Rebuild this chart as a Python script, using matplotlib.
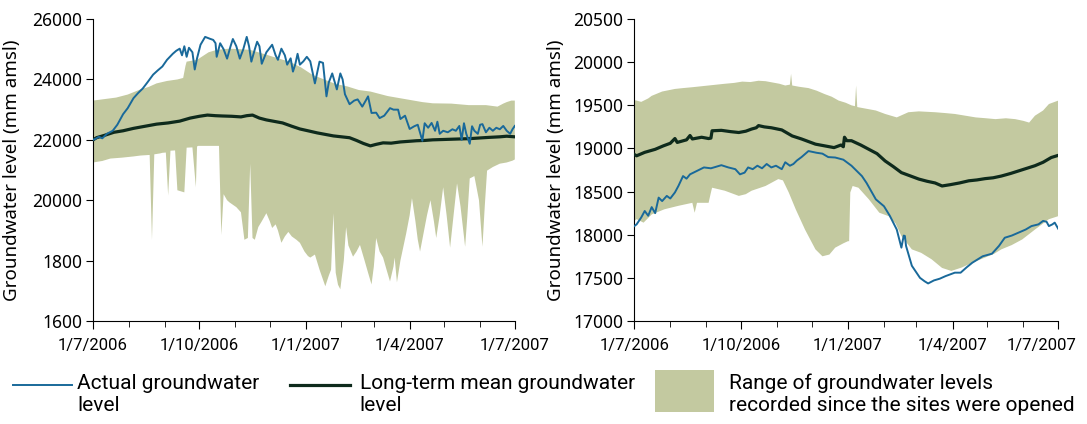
import numpy as np
import pandas as pd
import matplotlib
matplotlib.use("Agg")
import matplotlib.pyplot as plt
import matplotlib.transforms as mtransforms
from matplotlib.lines import Line2D
from matplotlib.patches import Rectangle

# ---- data (days after 1/7/2006, value in mm amsl) ----
start = pd.Timestamp("2006-07-01")

tick_dates = ["1/7/2006", "1/10/2006", "1/1/2007", "1/4/2007", "1/7/2007"]

left_ytick_values = [16000, 18000, 20000, 22000, 24000, 26000]
left_ytick_labels = ["1600", "1800", "20000", "22000", "24000", "26000"]
right_ytick_values = [17000, 17500, 18000, 18500, 19000, 19500, 20000, 20500]

# left site
left_actual_days = [0, 2, 5, 8, 12, 17, 21, 26, 30, 35, 39, 43, 47, 52, 56, 60, 64, 69, 72, 75,
                    77, 79, 81, 83, 86, 88, 90, 93, 97, 101, 104, 106, 107, 110, 113, 116, 119, 121,
                    124, 127, 130, 133, 135, 137, 140, 142, 144, 146, 150, 155, 158, 160, 163, 166,
                    168, 171, 173, 175, 177, 179, 182, 185, 188, 192, 196, 199, 202, 204, 207, 211,
                    214, 216, 218, 222, 226, 229, 233, 236, 238, 241, 245, 248, 252, 257, 260, 264,
                    266, 270, 274, 278, 281, 285, 287, 290, 293, 296, 298, 300, 303, 307, 311, 314,
                    317, 319, 321, 323, 326, 328, 330, 333, 335, 337, 340, 343, 346, 349, 352, 355,
                    358, 361, 363, 365]
left_actual = [22000, 22030, 22100, 22050, 22200, 22300, 22500, 22850, 23050, 23380, 23550, 23700,
               23900, 24160, 24300, 24430, 24650, 24850, 24950, 25020, 24800, 25100, 24750, 25050,
               24900, 24330, 24700, 25150, 25410, 25350, 25310, 25200, 24750, 25200, 25000, 24690,
               25100, 25340, 25100, 24690, 25000, 25410, 25100, 24590, 25000, 25250, 25100, 24520,
               24900, 25150, 24800, 24650, 25020, 24800, 24490, 24700, 24260, 24500, 24850, 24490,
               24600, 24750, 24600, 23870, 24590, 24550, 23440, 23900, 24200, 23670, 24200, 24000,
               23510, 23180, 23300, 23340, 23100, 23300, 23440, 22890, 22900, 22720, 22800, 23050,
               23000, 23000, 22690, 22800, 22360, 22450, 22500, 21970, 22550, 22400, 22560, 22300,
               22600, 22200, 22300, 22250, 22350, 22300, 22460, 22000, 22550, 22200, 21870, 22450,
               22300, 22200, 22500, 22520, 22250, 22400, 22300, 22400, 22350, 22460, 22300, 22200,
               22350, 22460]

left_mean_days = [0, 3, 10, 18, 26, 35, 45, 55, 65, 75, 84, 92, 99, 106, 112, 120, 128, 133, 138,
                  144, 150, 157, 164, 172, 179, 186, 194, 201, 208, 215, 222, 228, 234, 240, 245,
                  251, 258, 266, 273, 280, 287, 294, 302, 310, 318, 326, 334, 342, 352, 358, 365]
left_mean = [22000, 22070, 22150, 22250, 22300, 22380, 22450, 22520, 22560, 22620, 22720, 22780,
             22820, 22800, 22790, 22780, 22760, 22800, 22820, 22720, 22660, 22610, 22560, 22450,
             22360, 22300, 22230, 22180, 22130, 22100, 22070, 21980, 21880, 21800, 21850, 21900,
             21890, 21930, 21950, 21970, 21980, 22000, 22010, 22020, 22030, 22040, 22060, 22080,
             22100, 22120, 22100]

left_upper_days = [0, 10, 20, 30, 41, 48, 55, 64, 73, 78, 80, 81, 90, 100, 107, 118, 128, 136, 143,
                   150, 160, 170, 180, 190, 200, 210, 220, 230, 240, 255, 270, 285, 294, 310, 325,
                   340, 350, 355, 358, 362, 365]
left_upper = [23300, 23350, 23400, 23500, 23670, 23750, 23870, 23950, 24000, 24050, 24450, 24590,
              24650, 24900, 24980, 25020, 25000, 24980, 24900, 24820, 24700, 24590, 24400, 24150,
              24000, 23850, 23770, 23650, 23600, 23450, 23350, 23250, 23210, 23200, 23150, 23150,
              23100, 23200, 23250, 23300, 23300]

left_lower_days = [0, 8, 15, 25, 35, 41, 49, 51, 53, 58, 60, 63, 65, 67, 71, 73, 79, 81, 86, 89,
                   90, 91, 109, 111, 113, 116, 118, 121, 124, 128, 131, 134, 136, 138, 140, 143,
                   146, 150, 153, 155, 158, 160, 163, 166, 169, 172, 176, 179, 183, 186, 188, 192,
                   196, 201, 204, 206, 208, 210, 212, 214, 217, 219, 221, 225, 228, 231, 235, 238,
                   241, 243, 245, 248, 251, 254, 257, 260, 261, 263, 266, 268, 271, 274, 276, 279,
                   281, 283, 286, 289, 292, 295, 297, 300, 303, 306, 309, 312, 315, 318, 322, 324,
                   326, 330, 334, 337, 339, 341, 346, 352, 358, 363, 365]
left_lower = [21250, 21300, 21380, 21410, 21450, 21480, 21500, 18690, 21520, 21550, 21570, 21580,
              20160, 21640, 21650, 20330, 20260, 21740, 21750, 20430, 21780, 21800, 21800, 18850,
              20200, 20000, 19930, 19850, 19770, 19600, 18690, 18750, 21210, 18750, 18690, 19110,
              19300, 19570, 19300, 19080, 19200, 19000, 18590, 18800, 18950, 18800, 18690, 18590,
              18300, 18150, 18100, 18200, 17700, 17150, 17500, 17700, 19570, 17600, 17200, 17050,
              18000, 19110, 18500, 18130, 18300, 18520, 18000, 17600, 17210, 17800, 18750, 18300,
              18100, 17700, 17310, 17800, 18100, 17280, 18000, 18360, 18900, 19500, 20070, 19300,
              18700, 18300, 18900, 19500, 20000, 19300, 18750, 19500, 20430, 19500, 18430, 19500,
              20560, 19800, 18460, 19500, 20720, 20800, 20000, 18460, 19800, 20980, 21100, 21210,
              21250, 21310, 21350]

# right site
right_actual_days = [0, 2, 6, 9, 12, 15, 18, 21, 24, 28, 31, 35, 38, 42, 45, 48, 54, 60, 66, 71,
                     75, 81, 87, 91, 95, 98, 102, 106, 110, 114, 118, 122, 127, 130, 134, 137, 140,
                     144, 150, 157, 162, 167, 173, 180, 187, 196, 200, 208, 215, 220, 226, 230, 232,
                     233, 234, 239, 246, 250, 253, 258, 263, 268, 276, 281, 286, 291, 300, 308, 314,
                     319, 325, 331, 337, 342, 348, 352, 355, 357, 360, 362, 365]
right_actual = [18100, 18120, 18200, 18275, 18220, 18320, 18250, 18430, 18390, 18450, 18420, 18490,
                18565, 18680, 18650, 18700, 18740, 18780, 18770, 18790, 18806, 18780, 18760, 18700,
                18720, 18780, 18760, 18800, 18770, 18820, 18780, 18800, 18760, 18840, 18800, 18820,
                18860, 18900, 18970, 18950, 18940, 18900, 18895, 18870, 18800, 18680, 18600, 18410,
                18330, 18220, 18060, 17850, 17990, 17985, 17870, 17640, 17500, 17460, 17435, 17470,
                17490, 17520, 17560, 17560, 17620, 17675, 17750, 17780, 17870, 17965, 17990, 18025,
                18060, 18100, 18120, 18160, 18150, 18100, 18120, 18140, 18070]

right_mean_days = [0, 2, 9, 18, 25, 31, 35, 37, 45, 48, 50, 58, 64, 66, 67, 75, 83, 90, 96, 101,
                   105, 107, 112, 118, 127, 136, 144, 150, 156, 164, 172, 178, 180, 181, 183, 187,
                   195, 202, 209, 216, 223, 230, 238, 245, 252, 259, 265, 272, 280, 288, 295, 302,
                   309, 316, 324, 331, 338, 345, 352, 359, 365]
right_mean = [18930, 18915, 18955, 18990, 19030, 19060, 19115, 19070, 19100, 19150, 19110, 19130,
              19115, 19120, 19205, 19210, 19195, 19185, 19200, 19225, 19240, 19265, 19250, 19240,
              19215, 19145, 19110, 19080, 19050, 19030, 19010, 19040, 19020, 19130, 19090, 19090,
              19040, 18990, 18940, 18855, 18790, 18720, 18680, 18645, 18620, 18600, 18565, 18580,
              18600, 18625, 18635, 18650, 18660, 18680, 18710, 18740, 18770, 18800, 18840, 18895,
              18920]

right_upper_days = [0, 2, 6, 12, 15, 24, 35, 42, 50, 57, 64, 71, 78, 86, 93, 100, 107, 113, 119,
                    125, 130, 134, 135, 136, 142, 150, 157, 164, 170, 176, 182, 187, 190, 191, 192,
                    200, 208, 216, 226, 236, 245, 259, 268, 276, 285, 294, 303, 311, 320, 328, 335,
                    340, 345, 352, 357, 362, 365]
right_upper = [19560, 19555, 19540, 19580, 19610, 19660, 19690, 19700, 19710, 19720, 19730, 19740,
               19750, 19760, 19775, 19770, 19785, 19780, 19765, 19750, 19730, 19740, 19865, 19730,
               19715, 19700, 19670, 19630, 19600, 19555, 19530, 19500, 19490, 19730, 19480, 19460,
               19440, 19400, 19360, 19420, 19430, 19420, 19410, 19400, 19380, 19360, 19350, 19340,
               19350, 19340, 19320, 19300, 19380, 19440, 19515, 19540, 19555]

right_lower_days = [0, 2, 8, 15, 26, 38, 50, 52, 54, 64, 66, 67, 78, 90, 96, 101, 113, 124, 128,
                    133, 139, 147, 156, 162, 168, 173, 180, 184, 185, 186, 188, 193, 202, 211, 219,
                    225, 230, 239, 247, 256, 265, 273, 282, 291, 302, 310, 316, 325, 334, 345, 357,
                    365]
right_lower = [18160, 18180, 18140, 18235, 18295, 18335, 18370, 18255, 18370, 18370, 18490, 18545,
               18510, 18450, 18470, 18510, 18565, 18645, 18630, 18490, 18295, 18060, 17830, 17750,
               17770, 17850, 17900, 17925, 17925, 18490, 18565, 18545, 18410, 18255, 18215, 18130,
               17985, 17830, 17790, 17715, 17615, 17580, 17620, 17675, 17735, 17780, 17830, 17880,
               17945, 18060, 18180, 18215]

# ---- style ----
band_color = "#c3c9a0"
actual_color = "#19699a"
mean_color = "#0e2a1c"
narrow = ["Liberation Sans Narrow", "Roboto", "DejaVu Sans"]
wide = ["Noto Sans", "DejaVu Sans"]


def to_dates(days):
    return start + pd.to_timedelta(days, unit="D")


fig = plt.figure(figsize=(10.87, 4.24), dpi=100)
ax1 = fig.add_axes([0.0856, 0.243, 0.388, 0.712])
ax2 = fig.add_axes([0.5835, 0.243, 0.390, 0.712])

panels = [
    (ax1, left_actual_days, left_actual, left_mean_days, left_mean,
     left_upper_days, left_upper, left_lower_days, left_lower),
    (ax2, right_actual_days, right_actual, right_mean_days, right_mean,
     right_upper_days, right_upper, right_lower_days, right_lower),
]

major = pd.to_datetime(tick_dates, dayfirst=True)
minor = pd.date_range("2006-07-01", "2007-07-01", freq="MS")

for ax, ad, av, md, mv, ud, uv, ld, lv in panels:
    # range band as one polygon: upper edge forward, lower edge back
    xs = list(to_dates(ud)) + list(to_dates(ld))[::-1]
    ys = list(uv) + list(lv)[::-1]
    ax.fill(xs, ys, color=band_color, lw=0, zorder=1)
    ax.plot(to_dates(md), mv, color=mean_color, lw=2.3, zorder=3)
    ax.plot(to_dates(ad), av, color=actual_color, lw=1.4, zorder=4)

    ax.set_xlim(major[0], major[-1])
    ax.set_xticks(major)
    ax.set_xticks(minor, minor=True)
    ax.set_xticklabels(tick_dates, family=narrow, fontsize=12)
    ax.tick_params(axis="x", which="major", direction="out", length=6, pad=6)
    ax.tick_params(axis="x", which="minor", direction="out", length=4)
    ax.tick_params(axis="y", direction="out", length=5, pad=3)
    for s in ["top", "right"]:
        ax.spines[s].set_visible(False)
    ax.set_ylabel("Groundwater level (mm amsl)", family=wide, fontsize=13.5)

ax1.set_ylim(16000, 26000)
ax1.set_yticks(left_ytick_values)
ax1.set_yticklabels(left_ytick_labels, family=wide, fontsize=12.5)
ax1.yaxis.set_label_coords(-0.172, 0.5)

ax2.set_ylim(17000, 20500)
ax2.set_yticks(right_ytick_values)
ax2.set_yticklabels([str(v) for v in right_ytick_values], family=wide, fontsize=12.5)
ax2.yaxis.set_label_coords(-0.163, 0.5)

# last date label on the right panel sits a little inward, as in the original
last = ax2.get_xticklabels()[-1]
last.set_transform(last.get_transform() + mtransforms.ScaledTranslation(-0.17, 0, fig.dpi_scale_trans))

# ---- legend along the bottom ----
lfs = 15
ly = 0.092
ty = 0.118
fig.add_artist(Line2D([0.012, 0.066], [ly, ly], transform=fig.transFigure,
                      color=actual_color, lw=1.4))
fig.text(0.071, ty, "Actual groundwater\nlevel", family=narrow, fontsize=lfs,
         va="top", linespacing=1.2)
fig.add_artist(Line2D([0.267, 0.322], [ly, ly], transform=fig.transFigure,
                      color=mean_color, lw=2.3))
fig.text(0.331, ty, "Long-term mean groundwater\nlevel", family=narrow, fontsize=lfs,
         va="top", linespacing=1.2)
fig.add_artist(Rectangle((0.6026, 0.028), 0.054, 0.099, transform=fig.transFigure,
                         color=band_color, lw=0))
fig.text(0.671, ty, "Range of groundwater levels\nrecorded since the sites were opened",
         family=narrow, fontsize=lfs, va="top", linespacing=1.2)

fig.savefig("out.png", dpi=100)
